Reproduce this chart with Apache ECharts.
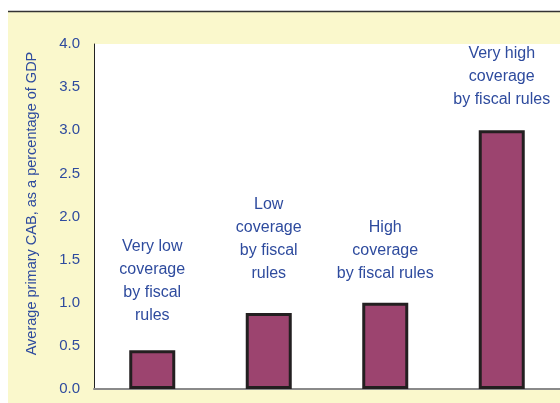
<!DOCTYPE html>
<html><head><meta charset="utf-8">
<script src="https://cdn.jsdelivr.net/npm/echarts@6/dist/echarts.min.js"></script>
<style>html,body{margin:0;padding:0;background:#fff}#c{width:560px;height:403px}</style>
</head><body><div id="c"></div>
<script>
const categories = ["Very low\ncoverage\nby fiscal\nrules", "Low\ncoverage\nby fiscal\nrules", "High\ncoverage\nby fiscal rules", "Very high\ncoverage\nby fiscal rules"];
const values = [0.45, 0.88, 1.0, 3.0];
const yTicks = [0, 0.5, 1, 1.5, 2, 2.5, 3, 3.5, 4];
const labelGaps = [23, 28, 18, 19];

const blue = '#2E4B9E';
const chart = echarts.init(document.getElementById('c'));
chart.setOption({
  backgroundColor: '#fff',
  animation: false,
  textStyle: {fontFamily: 'Liberation Sans, Arial, sans-serif'},
  graphic: [
    {type: 'rect', z: -10, silent: true, shape: {x: 8, y: 12, width: 552, height: 391}, style: {fill: '#FAF8CC'}},
    {type: 'line', z: -9, silent: true, shape: {x1: 8, y1: 11.5, x2: 560, y2: 11.5}, style: {stroke: '#333', lineWidth: 1.5}}
  ],
  grid: {left: 94, right: 0, top: 44, bottom: 14, show: true, backgroundColor: '#fff', borderWidth: 0, containLabel: false, outerBoundsMode: 'none'},
  xAxis: {
    type: 'category', data: categories,
    axisLine: {show: true, lineStyle: {color: '#8a8a8a', width: 2}},
    axisTick: {show: false}, axisLabel: {show: false}
  },
  yAxis: {
    type: 'value', min: 0, max: 4, interval: 0.5,
    name: 'Average primary CAB, as a percentage of GDP',
    nameLocation: 'middle', nameGap: 55, nameRotate: 90,
    nameTextStyle: {color: blue, fontSize: 14.5, padding: [0, 0, 0, 26]},
    axisLine: {show: true, lineStyle: {color: '#222', width: 1}},
    axisTick: {show: false}, splitLine: {show: false},
    axisLabel: {color: blue, fontSize: 15, margin: 14, formatter: v => v.toFixed(1)}
  },
  series: [{
    type: 'bar', barWidth: 46,
    data: values.map((v, i) => ({value: v, label: {distance: labelGaps[i]}})),
    itemStyle: {color: '#9C446F', borderColor: '#231F20', borderWidth: 3},
    label: {show: true, position: 'top', formatter: '{b}', color: blue, fontSize: 16, lineHeight: 23, align: 'center'}
  }]
});
</script></body></html>
